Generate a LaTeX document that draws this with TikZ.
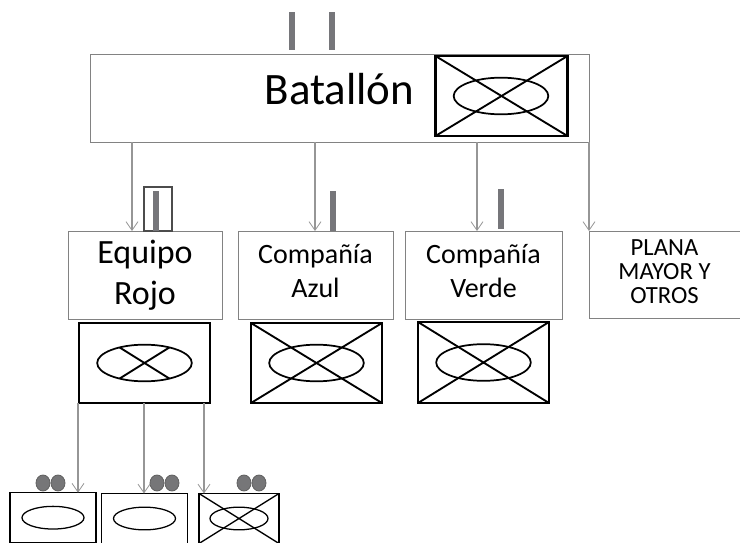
\documentclass[tikz,border=0pt]{standalone}
\usepackage{fontspec}
\setmainfont{Carlito}
\usetikzlibrary{arrows.meta,shapes.geometric}
\definecolor{linegray}{RGB}{150,150,150}
\definecolor{boxgray}{RGB}{130,130,130}
\definecolor{barcol}{RGB}{118,118,122}
\definecolor{dotcol}{RGB}{118,118,120}
\tikzset{
  x=0.75pt,y=-0.75pt,
  orgbox/.style={draw=boxgray,line width=0.6pt,fill=white,inner sep=0pt,outer sep=0pt,align=center,anchor=north west,text=black},
  symbox/.style={orgbox,draw=black,line width=1.9pt,minimum width=98.25pt,minimum height=60pt},
  smallbox/.style={orgbox,draw=black,line width=1.1pt},
  arr/.style={draw=linegray,line width=0.85pt,-{Straight Barb[length=6.5pt,width=9pt,line width=0.6pt]}},
  sym/.style={draw=black,line width=1.4pt},
  bigell/.style={draw=black,line width=1.3pt,ellipse,minimum width=71pt,minimum height=27.5pt,inner sep=0pt,outer sep=0pt},
  smallell/.style={draw=black,line width=0.95pt,ellipse,minimum height=17pt,inner sep=0pt,outer sep=0pt},
  rankbar/.style={fill=barcol,draw=none,minimum width=4.5pt,minimum height=30pt,inner sep=0pt,outer sep=0pt},
  dot/.style={fill=dotcol,draw=black!62,line width=0.6pt,ellipse,minimum width=10.5pt,minimum height=12pt,inner sep=0pt},
}
\begin{document}
\begin{tikzpicture}
\useasboundingbox (0,0) rectangle (740,543);
% Batallon
\node[orgbox,minimum width=374.25pt,minimum height=66pt] (bat) at (90,54) {};
\node[font=\fontsize{33.7}{38}\selectfont,anchor=center,inner sep=0pt] (battext) at (339.5,89) {Batallón};
\node[symbox,minimum width=99pt] (batsym) at (435.5,56) {};
\draw[sym] (batsym.north west) -- (batsym.south east) (batsym.north east) -- (batsym.south west);
\node[bigell] (batell) at (501,96) {};
\node[rankbar,minimum height=28.5pt] (b1) at (292,31) {};
\node[rankbar,minimum height=28.5pt] (b2) at (332,31) {};
% Second row
\node[orgbox,minimum width=115.5pt,minimum height=66pt,font=\fontsize{25.5}{31}\selectfont,text depth=4pt] (eq) at (68,231) {Equipo\\Rojo};
\node[orgbox,minimum width=116.25pt,minimum height=66pt,font=\fontsize{21}{25.5}\selectfont,text depth=6.5pt] (az) at (238,231) {Compañía\\Azul};
\node[orgbox,minimum width=117.75pt,minimum height=66pt,font=\fontsize{21}{25.5}\selectfont,text depth=6.5pt] (ve) at (405,231) {Compañía\\Verde};
\node[orgbox,minimum width=113.25pt,minimum height=65.25pt,font=\fontsize{18.5}{18}\selectfont,text depth=4.5pt] (pl) at (589,231) {PLANA\\MAYOR Y\\OTROS};
% bars
\node[draw=black!70,line width=1.3pt,minimum width=21pt,minimum height=33pt,inner sep=0pt,outer sep=0pt,anchor=north west] (frame) at (144,187) {};
\node[rankbar,anchor=south] (b3) at (155.5,231) {};
\node[rankbar,anchor=south] (b4) at (332.5,231) {};
\node[rankbar,anchor=south] (b5) at (501,229) {};
% symbols row 2
\node[symbox] (eqsym) at (79,323) {};
\node[bigell] (eqell) at (eqsym.center) {};
\draw[sym] (eqell.148) -- (eqell.328) (eqell.32) -- (eqell.212);
\node[symbox] (azsym) at (251,323) {};
\draw[sym] (azsym.north west) -- (azsym.south east) (azsym.north east) -- (azsym.south west);
\node[bigell] (azell) at (azsym.center) {};
\node[symbox,minimum height=60.75pt] (vesym) at (418,322) {};
\draw[sym] (vesym.north west) -- (vesym.south east) (vesym.north east) -- (vesym.south west);
\node[bigell] (veell) at (vesym.center) {};
% bottom row
\node[smallbox,minimum width=64.5pt,minimum height=37.5pt] (s1) at (10,492.7) {};
\node[smallell,minimum width=46.5pt] (e1) at (s1.center) {};
\node[smallbox,minimum width=64.5pt,minimum height=37.5pt] (s2) at (101.5,493.5) {};
\node[smallell,minimum width=46.5pt] (e2) at (s2.center) {};
\node[smallbox,minimum width=60pt,minimum height=37.5pt] (s3) at (199,493.5) {};
\draw[draw=black,line width=1pt] (s3.north west) -- (s3.south east) (s3.north east) -- (s3.south west);
\node[smallell,minimum width=43.5pt] (e3) at (s3.center) {};
% dots
\node[dot] (d1) at (43,483) {};
\node[dot] (d2) at (58,483) {};
\node[dot] (d3) at (157,483) {};
\node[dot] (d4) at (172,483) {};
\node[dot] (d5) at (244,483) {};
\node[dot] (d6) at (259,483) {};
% connectors
\coordinate (x1) at (132,0);
\coordinate (x2) at (315,0);
\coordinate (x3) at (477,0);
\coordinate (y1) at (78,0);
\coordinate (y2) at (144,0);
\coordinate (y3) at (204,0);
\draw[arr] (x1 |- bat.south) -- (x1 |- eq.north);
\draw[arr] (x2 |- bat.south) -- (x2 |- az.north);
\draw[arr] (x3 |- bat.south) -- (x3 |- ve.north);
\draw[arr] (bat.south east) -- (bat.south east |- pl.north);
\draw[arr] (y1 |- eqsym.south) -- (y1 |- s1.north);
\draw[arr] (y2 |- eqsym.south) -- (y2 |- s2.north);
\draw[arr] (y3 |- eqsym.south) -- (y3 |- s3.north);
\end{tikzpicture}
\end{document}
